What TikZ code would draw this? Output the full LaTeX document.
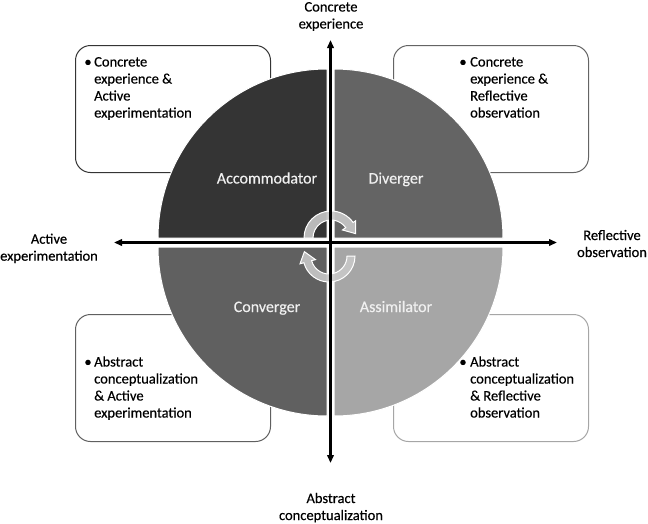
\documentclass[tikz,border=0pt]{standalone}
\usepackage{fontspec}
\setmainfont{Carlito}[FakeBold=0.35]
\usetikzlibrary{arrows.meta,calc}
\definecolor{qTL}{RGB}{52,52,52}
\definecolor{qTR}{RGB}{100,100,100}
\definecolor{qBL}{RGB}{96,96,96}
\definecolor{qBR}{RGB}{166,166,166}
\definecolor{qtext}{RGB}{240,240,240}
\definecolor{arrowgray}{RGB}{200,200,200}
\definecolor{txt}{RGB}{0,0,0}
\begin{document}
\begin{tikzpicture}[x=1pt,y=1pt,
  quad/.style={draw=white, line width=1pt},
  infobox/.style={draw, line width=1pt, rounded corners=15pt, fill=white,
    minimum width=195pt, minimum height=127pt, anchor=north west, inner sep=0pt},
  qlabel/.style={text=qtext, font=\fontsize{16}{19}\selectfont, inner sep=0pt, anchor=base},
  btext/.style={text=txt, font=\fontsize{14.5}{17}\selectfont, inner sep=0pt, anchor=base west},
  bulletmark/.style={text=txt, font=\fontsize{14.5}{17}\selectfont, inner sep=0pt, anchor=base},
  axislabel/.style={text=txt, font=\fontsize{14.5}{17}\selectfont, inner sep=0pt, anchor=base},
  axisline/.style={line width=2.2pt, {Triangle[length=8pt,width=6.5pt]}-{Triangle[length=8pt,width=6.5pt]}},
  cycarrow/.style={fill=arrowgray, fill opacity=0.9, draw=white, line width=1pt}
]
\path[use as bounding box] (0,0) rectangle (648,-523);

% boxes
\node[infobox, draw=qTL] (boxTL) at (75,-45) {};
\node[infobox, draw=qTR] (boxTR) at (393,-45) {};
\node[infobox, draw=qBL] (boxBL) at (75,-314) {};
\node[infobox, draw=qBR] (boxBR) at (393,-314) {};

% quadrants
\filldraw[quad, fill=qTL] (327,-238) -- ++(180:169pt) arc[start angle=180, end angle=90, radius=169pt] -- cycle;
\filldraw[quad, fill=qTR] (334,-238) -- ++(90:169pt) arc[start angle=90, end angle=0, radius=169pt] -- cycle;
\filldraw[quad, fill=qBL] (327,-247) -- ++(270:169pt) arc[start angle=270, end angle=180, radius=169pt] -- cycle;
\filldraw[quad, fill=qBR] (334,-247) -- ++(0:169pt) arc[start angle=0, end angle=-90, radius=169pt] -- cycle;

% circular arrows
\coordinate (cu) at (331,-238);
\coordinate (cl) at (329,-256);
\filldraw[cycarrow] ($(cu)+(180:27pt)$) arc[start angle=180, end angle=35, radius=27pt]
  -- ($(cu)+(35:30pt)$) -- ($(cu)+(10:25pt)$) -- ($(cu)+(35:14pt)$) -- ($(cu)+(35:18pt)$)
  arc[start angle=35, end angle=180, radius=18pt] -- cycle;
\filldraw[cycarrow] ($(cl)+(0:26pt)$) arc[start angle=0, end angle=-165, radius=26pt]
  -- ($(cl)+(-165:30pt)$) -- ($(cl)+(-190:25pt)$) -- ($(cl)+(-165:14pt)$) -- ($(cl)+(-165:18pt)$)
  arc[start angle=-165, end angle=0, radius=18pt] -- cycle;

% axes
\coordinate (vtop) at (330.5,-40);
\coordinate (vbot) at (330.5,-463);
\coordinate (hleft) at (114,-242.5);
\coordinate (hright) at (557,-242.5);
\draw[axisline] (vbot) -- (vtop);
\draw[axisline] (hleft) -- (hright);

% quadrant labels
\node[qlabel] (nAcc) at (267,-183.5) {Accommodator};
\node[qlabel] (nDiv) at (396,-183.5) {Diverger};
\node[qlabel] (nCon) at (267,-312) {Converger};
\node[qlabel] (nAss) at (396,-312) {Assimilator};

% box texts
\node[bulletmark] (bTL) at (88,-66.5) {•};
\node[btext] (tTL) at (94,-66.5) {\begin{tabular}[t]{@{}l@{}}Concrete\\experience \&\\Active\\experimentation\end{tabular}};
\node[bulletmark] (bTR) at (463,-66.5) {•};
\node[btext] (tTR) at (470,-66.5) {\begin{tabular}[t]{@{}l@{}}Concrete\\experience \&\\Reflective\\observation\end{tabular}};
\node[bulletmark] (bBL) at (88,-366.5) {•};
\node[btext] (tBL) at (94,-366.5) {\begin{tabular}[t]{@{}l@{}}Abstract\\conceptualization\\\& Active\\experimentation\end{tabular}};
\node[bulletmark] (bBR) at (463,-366.5) {•};
\node[btext] (tBR) at (470,-366.5) {\begin{tabular}[t]{@{}l@{}}Abstract\\conceptualization\\\& Reflective\\observation\end{tabular}};

% axis labels
\node[axislabel] (lCE) at (331,-11.5) {\begin{tabular}[t]{@{}c@{}}Concrete\\experience\end{tabular}};
\node[axislabel] (lAE) at (49,-243.7) {\begin{tabular}[t]{@{}c@{}}Active\\experimentation\end{tabular}};
\node[axislabel] (lRO) at (612,-240) {\begin{tabular}[t]{@{}c@{}}Reflective\\observation\end{tabular}};
\node[axislabel] (lAC) at (331,-503) {\begin{tabular}[t]{@{}c@{}}Abstract\\conceptualization\end{tabular}};
\end{tikzpicture}
\end{document}
